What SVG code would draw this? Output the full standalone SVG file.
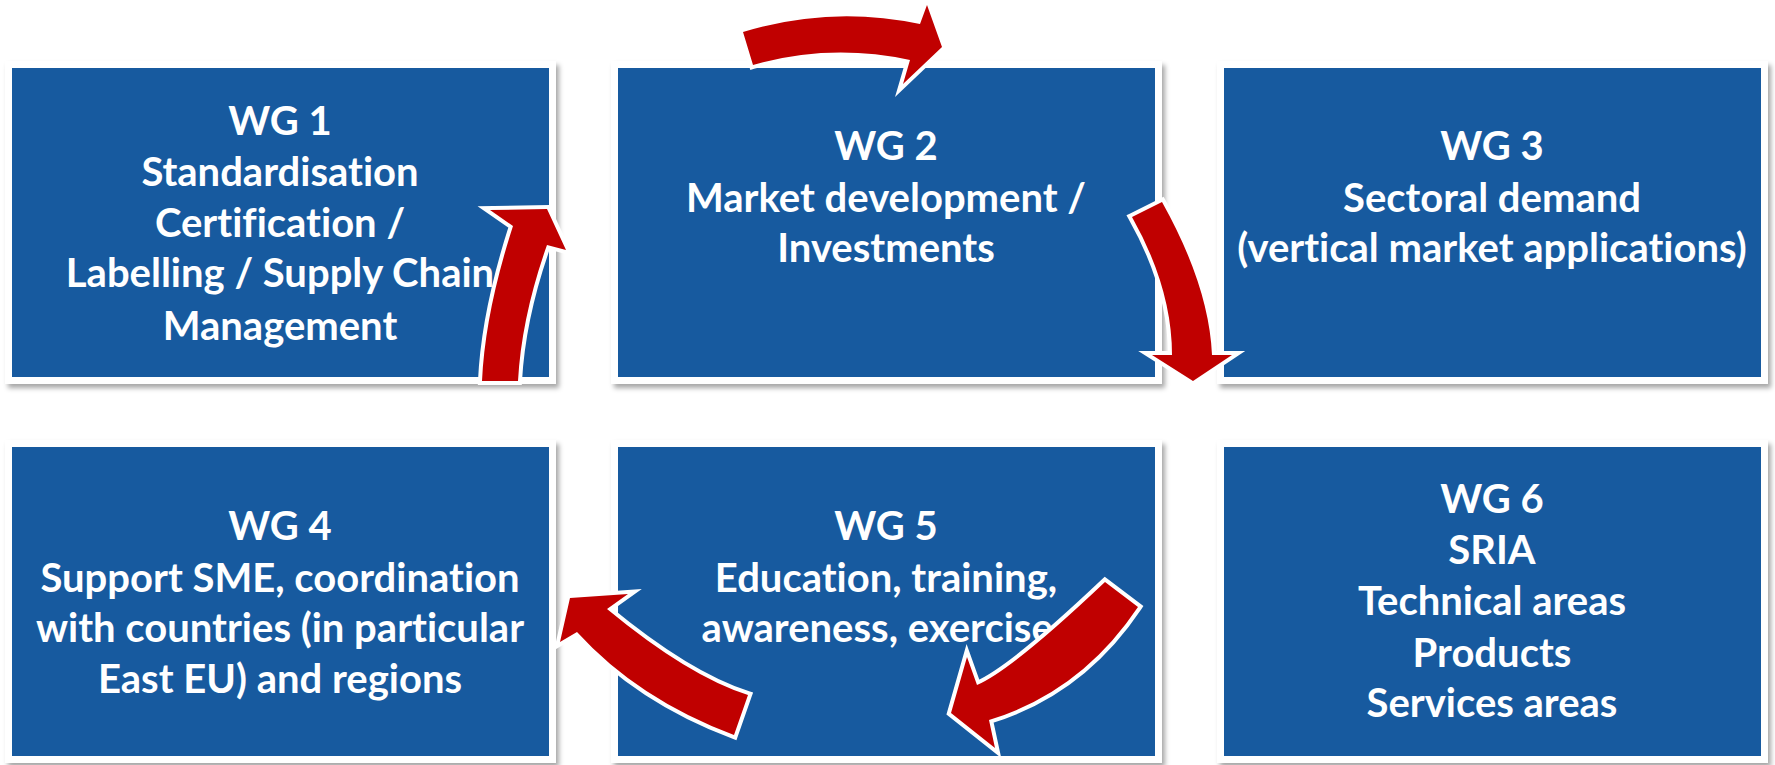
<svg xmlns="http://www.w3.org/2000/svg" width="1775" height="765" viewBox="0 0 1775 765">
<style>
.frame{fill:#ffffff;filter:url(#sh)}
.box{fill:#175A9F}
.t{font-family:Lato,"Open Sans","Liberation Sans",sans-serif;font-weight:bold;font-size:40px;fill:#ffffff;text-anchor:middle;font-variant-ligatures:none}
.arr{fill:#C00000;stroke:#ffffff;stroke-width:8;stroke-linejoin:miter;paint-order:stroke}
</style>
<defs>
<filter id="sh" x="-5%" y="-5%" width="112%" height="115%">
<feDropShadow dx="3" dy="4" stdDeviation="2.5" flood-color="#000000" flood-opacity="0.35"/>
</filter>
</defs>
<rect width="1775" height="765" fill="#ffffff"/>
<g id="wg1">
<rect class="frame" x="5" y="61" width="551" height="323"/>
<rect class="box" x="12" y="68" width="537" height="309"/>
<text class="t" x="280" y="135">WG 1</text>
<text class="t" x="280" y="186">Standardisation</text>
<text class="t" x="280" y="237">Certification /</text>
<text class="t" x="280" y="287">Labelling / Supply Chain</text>
<text class="t" x="280" y="340">Management</text>
</g>
<g id="wg2">
<rect class="frame" x="611" y="61" width="551" height="323"/>
<rect class="box" x="618" y="68" width="537" height="309"/>
<text class="t" x="886" y="160">WG 2</text>
<text class="t" x="886" y="212">Market development /</text>
<text class="t" x="886" y="262">Investments</text>
</g>
<g id="wg3">
<rect class="frame" x="1217" y="61" width="551" height="323"/>
<rect class="box" x="1224" y="68" width="537" height="309"/>
<text class="t" x="1492" y="160">WG 3</text>
<text class="t" x="1492" y="212">Sectoral demand</text>
<text class="t" x="1492" y="262">(vertical market applications)</text>
</g>
<g id="wg4">
<rect class="frame" x="5" y="440" width="551" height="323"/>
<rect class="box" x="12" y="447" width="537" height="309"/>
<text class="t" x="280" y="540">WG 4</text>
<text class="t" x="280" y="592">Support SME, coordination</text>
<text class="t" x="280" y="642">with countries (in particular</text>
<text class="t" x="280" y="693">East EU) and regions</text>
</g>
<g id="wg5">
<rect class="frame" x="611" y="440" width="551" height="323"/>
<rect class="box" x="618" y="447" width="537" height="309"/>
<text class="t" x="886" y="540">WG 5</text>
<text class="t" x="886" y="592">Education, training,</text>
<text class="t" x="886" y="642">awareness, exercises</text>
</g>
<g id="wg6">
<rect class="frame" x="1217" y="440" width="551" height="323"/>
<rect class="box" x="1224" y="447" width="537" height="309"/>
<text class="t" x="1492" y="513">WG 6</text>
<text class="t" x="1492" y="564">SRIA</text>
<text class="t" x="1492" y="615">Technical areas</text>
<text class="t" x="1492" y="667">Products</text>
<text class="t" x="1492" y="717">Services areas</text>
</g>
<g id="connectors">
<path class="arr" d="M743,32 Q831,5 920,24 L927,5 L942,47 L903,84 L910,60 Q830,43 753,65 Z"/>
<path class="arr" d="M1132,217 L1162,202 Q1209,286 1212,355 L1232,355 L1193,381 L1152,355 L1172,355 Q1172,288 1132,217 Z"/>
<path class="arr" d="M1105,582 L1138,607 Q1081,692 989,720 L995,748 L951,713 L967,657 L977,685 Q1012,670 1105,582 Z"/>
<path class="arr" d="M748,695 L734,735 Q638,699 577,632 L560,642 L570,598 L628,594 L607,609 Q688,676 748,695 Z"/>
<path class="arr" d="M482,381 L518,381 Q521.5,317 547,245 L566,250 L547,209 L490,210 L513,226 Q485,313 482,381 Z"/>
</g>
</svg>
